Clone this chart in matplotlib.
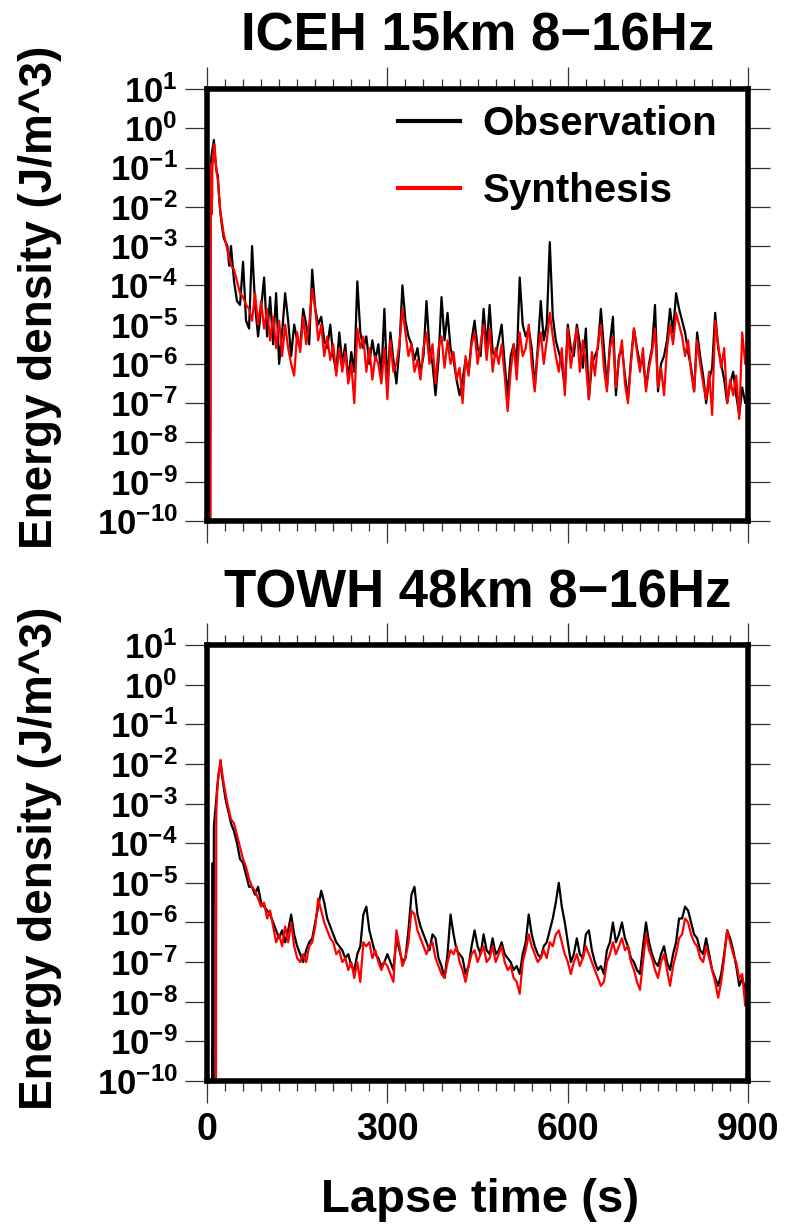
import matplotlib.pyplot as plt
import numpy as np
from matplotlib.lines import Line2D
from matplotlib.ticker import FixedLocator, FuncFormatter, MultipleLocator, NullLocator

plt.rcParams['font.family'] = ['Liberation Sans', 'DejaVu Sans']
plt.rcParams['font.weight'] = 'bold'
plt.rcParams['mathtext.fontset'] = 'custom'
plt.rcParams['mathtext.rm'] = 'Liberation Sans:bold'
plt.rcParams['mathtext.bf'] = 'Liberation Sans:bold'

# energy density envelopes, stored as log10(J/m^3)
# early part (onset + direct arrival) has its own time samples,
# the coda is sampled every 5 s from 45 s to 900 s
coda_step = 5
coda_start = 45

# ICEH, 15 km
iceh_obs_t_early = [5.0, 5.5, 6.5, 7.5, 8.5, 9.5, 10.5, 11.5, 12.5, 14, 16, 18, 20, 22, 25, 28, 31, 34, 37, 40]
iceh_obs_early = [-10, -1.2, -0.9, -0.7, -0.6, -0.5, -0.4, -0.3, -0.5, -0.8, -1.1, -1.2, -1.7, -2.1, -2.5, -2.8,
                  -2.9, -3.0, -3.5, -3.0]
iceh_obs_coda = [
    -3.9, -4.4, -4.5, -3.4, -4.9, -5.1, -3.0, -4.5, -5.3, -4.6,
    -3.8, -5.3, -4.3, -5.5, -4.2, -6.0, -5.2, -4.2, -4.9, -5.8,
    -5.0, -5.4, -5.6, -4.6, -5.0, -5.5, -3.6, -4.6, -5.0, -4.8,
    -5.4, -5.6, -5.0, -5.8, -6.2, -5.2, -6.0, -5.5, -6.4, -5.7,
    -6.2, -3.9, -5.2, -5.6, -5.3, -6.0, -5.4, -5.9, -5.5, -6.3,
    -4.6, -6.6, -5.2, -5.9, -6.5, -5.6, -4.0, -4.9, -5.3, -5.5,
    -5.9, -5.6, -6.2, -5.8, -4.4, -5.6, -6.0, -6.8, -5.9, -4.3,
    -5.4, -4.7, -5.6, -5.9, -6.4, -6.8, -6.4, -5.9, -6.2, -5.4,
    -4.9, -5.6, -5.8, -4.6, -5.6, -4.5, -5.7, -5.8, -5.4, -5.0,
    -6.0, -6.8, -5.8, -5.5, -6.0, -3.8, -5.0, -5.3, -5.1, -5.6,
    -6.6, -5.6, -4.4, -5.4, -5.0, -2.9, -4.8, -5.4, -5.7, -6.0,
    -6.6, -5.0, -5.6, -5.8, -5.0, -5.5, -6.1, -5.1, -6.9, -6.0,
    -5.8, -5.6, -4.6, -5.6, -6.6, -5.5, -4.8, -6.8, -5.8, -5.6,
    -6.3, -6.9, -5.9, -5.1, -5.6, -6.0, -5.9, -6.6, -6.0, -5.6,
    -4.5, -6.7, -6.0, -5.8, -5.4, -4.6, -5.2, -4.2, -4.6, -4.9,
    -5.2, -5.7, -6.1, -6.7, -5.2, -5.8, -6.3, -7.0, -6.4, -6.1,
    -4.7, -5.6, -6.0, -6.4, -7.0, -6.5, -6.2, -6.8, -7.3, -6.6,
    -7.0, -6.9,
]
iceh_syn_t_early = [6.0, 6.5, 7.0, 7.5, 8.0, 8.5, 9.0, 10, 11, 12, 13, 14, 16, 18, 20, 22, 25, 28, 31, 34, 37, 40]
iceh_syn_early = [-10, -0.9, -1.5, -2.2, -1.0, -1.8, -1.0, -0.8, -0.6, -0.4, -0.5, -0.8, -1.1, -1.3, -1.7, -2.1,
                  -2.4, -2.7, -2.9, -3.1, -3.3, -3.5]
iceh_syn_coda = [
    -3.6, -3.9, -4.2, -4.3, -4.5, -4.6, -4.9, -4.2, -5.0, -4.4,
    -5.1, -4.6, -5.4, -4.8, -5.6, -4.9, -5.8, -5.0, -5.6, -6.0,
    -6.3, -5.2, -5.7, -4.8, -5.5, -5.0, -4.1, -4.6, -5.4, -5.0,
    -5.8, -5.3, -5.9, -5.5, -6.3, -5.6, -6.2, -5.7, -6.5, -6.0,
    -7.0, -5.1, -5.6, -5.3, -6.2, -5.6, -6.4, -5.8, -6.0, -6.5,
    -5.6, -6.9, -5.4, -6.2, -6.0, -5.5, -4.6, -5.2, -5.8, -5.5,
    -6.2, -5.9, -6.4, -5.6, -5.2, -6.0, -5.5, -6.5, -5.6, -5.3,
    -6.1, -5.4, -6.0, -5.7, -6.4, -6.1, -7.0, -5.8, -6.3, -5.5,
    -5.2, -6.0, -5.5, -5.0, -5.9, -5.1, -6.2, -5.6, -6.0, -5.5,
    -6.3, -7.2, -6.2, -5.5, -6.4, -5.2, -5.8, -5.6, -5.0, -6.0,
    -6.7, -5.7, -5.2, -6.0, -5.4, -4.7, -5.3, -5.8, -6.2, -5.6,
    -6.8, -5.1, -6.1, -5.5, -5.1, -6.2, -5.4, -6.0, -6.9, -5.7,
    -6.3, -5.5, -5.0, -6.1, -6.7, -5.6, -5.3, -6.6, -5.9, -5.4,
    -6.5, -7.0, -6.0, -5.1, -5.7, -6.2, -5.6, -6.7, -6.1, -5.7,
    -5.1, -6.6, -6.1, -6.8, -5.6, -5.0, -5.5, -4.7, -5.0, -5.3,
    -5.8, -5.4, -6.2, -6.7, -5.4, -6.0, -6.5, -6.9, -6.2, -7.3,
    -4.9, -5.5, -6.1, -5.6, -7.0, -6.4, -6.8, -6.3, -7.4, -5.2,
    -6.0, -5.4,
]

# TOWH, 48 km
towh_obs_t_early = [8.5, 9.5, 10.5, 11.5, 13, 15, 17, 19, 21, 23, 25, 28, 31, 34, 37, 40]
towh_obs_early = [-10, -4.5, -10, -3.6, -3.3, -3.0, -2.6, -2.3, -2.1, -2.0, -2.3, -2.6, -2.9, -3.1, -3.3, -3.5]
towh_obs_coda = [
    -3.7, -4.0, -4.4, -4.5, -4.8, -5.1, -5.1, -5.3, -5.1, -5.5,
    -5.6, -5.7, -5.8, -6.0, -6.2, -6.4, -6.2, -6.5, -6.2, -5.8,
    -6.3, -6.6, -6.8, -7.0, -6.7, -6.5, -6.4, -6.0, -5.6, -5.2,
    -5.5, -5.9, -6.1, -6.3, -6.5, -6.6, -6.7, -6.9, -6.8, -7.1,
    -7.2, -6.8, -6.6, -5.8, -5.6, -6.2, -6.5, -6.8, -6.9, -7.1,
    -7.0, -6.8, -7.0, -7.2, -6.4, -6.7, -7.0, -6.9, -6.2, -5.3,
    -5.1, -5.8, -6.1, -6.3, -6.5, -6.7, -6.3, -6.4, -6.9, -7.1,
    -7.4, -6.8, -5.8, -6.3, -6.7, -6.8, -6.9, -7.3, -7.1, -6.6,
    -6.2, -6.6, -6.8, -6.3, -6.7, -6.8, -6.4, -6.8, -6.7, -6.5,
    -6.8, -6.9, -7.0, -7.2, -7.1, -7.3, -6.8, -6.5, -5.8, -6.3,
    -6.6, -6.8, -6.9, -6.6, -6.5, -6.2, -5.9, -5.5, -5.0, -5.6,
    -6.0, -6.5, -7.0, -6.8, -6.4, -6.8, -6.9, -6.3, -6.2, -6.7,
    -7.0, -7.2, -7.1, -7.3, -6.7, -6.5, -6.0, -6.5, -6.3, -6.0,
    -6.4, -6.6, -6.9, -7.0, -7.2, -7.3, -6.6, -6.0, -6.5, -6.8,
    -7.0, -7.1, -6.8, -6.6, -7.0, -7.2, -6.8, -6.5, -5.9, -5.9,
    -5.6, -5.7, -6.0, -6.3, -6.4, -6.7, -6.8, -6.4, -6.8, -7.2,
    -7.4, -7.6, -7.3, -6.8, -6.2, -6.4, -6.7, -7.1, -7.6, -7.4,
    -7.7, -7.9,
]
towh_syn_t_early = [15, 15.5, 17, 19, 21, 22.7, 24, 26, 28, 31, 34, 37, 40]
towh_syn_early = [-10, -3.2, -2.7, -2.3, -2.1, -1.9, -2.1, -2.3, -2.5, -2.75, -3.0, -3.2, -3.4]
towh_syn_coda = [
    -3.5, -3.8, -4.1, -4.4, -4.6, -4.9, -5.1, -5.2, -5.4, -5.6,
    -5.5, -5.9, -5.7, -6.1, -6.5, -6.3, -6.6, -6.1, -6.5, -6.0,
    -6.6, -6.9, -7.0, -6.8, -7.0, -6.6, -6.5, -6.1, -5.4, -5.7,
    -6.0, -6.2, -6.4, -6.5, -6.8, -6.7, -7.0, -6.9, -7.2, -7.0,
    -7.4, -7.0, -7.5, -6.5, -6.6, -6.5, -6.9, -6.7, -7.0, -7.2,
    -7.0, -7.1, -7.3, -7.5, -6.2, -6.6, -7.1, -6.9, -6.5, -5.7,
    -5.8, -6.2, -6.4, -6.6, -6.8, -6.6, -6.5, -6.9, -7.1, -7.3,
    -7.4, -7.0, -6.7, -6.8, -6.6, -7.0, -7.2, -7.5, -7.1, -6.8,
    -6.7, -7.0, -6.8, -6.6, -7.0, -6.9, -6.6, -7.0, -6.8, -6.6,
    -7.0, -7.2, -7.1, -7.4, -7.5, -7.8, -7.0, -6.7, -6.3, -6.6,
    -6.8, -7.0, -6.9, -6.7, -6.9, -6.5, -6.6, -6.3, -6.2, -6.5,
    -6.8, -7.0, -7.3, -7.0, -6.8, -7.1, -6.9, -6.6, -6.8, -7.0,
    -7.2, -7.4, -7.6, -7.5, -7.0, -6.8, -6.5, -6.8, -6.6, -6.4,
    -6.7, -6.6, -7.0, -7.2, -7.5, -7.7, -7.0, -6.3, -6.7, -6.9,
    -7.2, -7.4, -7.0, -6.8, -7.2, -7.6, -7.1, -6.8, -6.4, -6.3,
    -5.9, -6.0, -6.3, -6.5, -6.6, -6.9, -7.0, -6.6, -6.9, -7.2,
    -7.5, -7.9, -7.5, -6.9, -6.2, -6.5, -6.8, -7.0, -7.4, -7.3,
    -8.1, -7.0,
]

panel_titles = ['ICEH 15km 8\u221216Hz', 'TOWH 48km 8\u221216Hz']
legend_labels = ['Observation', 'Synthesis']
decades = np.arange(-10, 2)


def join_trace(t_early, early, coda):
    t_coda = coda_start + coda_step * np.arange(len(coda))
    t = np.concatenate([t_early, t_coda])
    log_e = np.concatenate([early, coda])
    return t, 10.0 ** log_e


def decade_label(v, pos):
    return r'$\mathbf{10^{%d}}$' % int(round(np.log10(v)))


def style_axes(ax, show_xlabels):
    ax.set_yscale('log')
    ax.set_xlim(0, 900)
    ax.set_ylim(1e-10, 1e1)
    ax.yaxis.set_major_locator(FixedLocator(10.0 ** decades))
    ax.yaxis.set_minor_locator(NullLocator())
    ax.yaxis.set_major_formatter(FuncFormatter(decade_label))
    ax.xaxis.set_major_locator(MultipleLocator(300))
    ax.xaxis.set_minor_locator(MultipleLocator(30))
    ax.tick_params(axis='both', which='major', direction='out', length=16, width=0.9,
                   color='#333333', top=True, right=True, pad=6)
    ax.tick_params(axis='x', which='minor', direction='out', length=7, width=0.9,
                   color='#333333', top=True)
    ax.tick_params(axis='y', labelsize=25, pad=5)
    ax.tick_params(axis='x', labelsize=27, labelbottom=show_xlabels)
    for sp in ax.spines.values():
        sp.set_linewidth(4)


def draw_panel(ax, obs, syn):
    ax.plot(obs[0], obs[1], color='black', lw=1.6)
    ax.plot(syn[0], syn[1], color='red', lw=1.6)


fig = plt.figure(figsize=(7.96, 12.27), dpi=100)
ax_top = fig.add_axes([0.260, 0.5754, 0.680, 0.3521])
ax_bot = fig.add_axes([0.260, 0.1190, 0.680, 0.3553])

draw_panel(ax_top, join_trace(iceh_obs_t_early, iceh_obs_early, iceh_obs_coda),
           join_trace(iceh_syn_t_early, iceh_syn_early, iceh_syn_coda))
draw_panel(ax_bot, join_trace(towh_obs_t_early, towh_obs_early, towh_obs_coda),
           join_trace(towh_syn_t_early, towh_syn_early, towh_syn_coda))
style_axes(ax_top, False)
style_axes(ax_bot, True)

# legend only in the upper panel
handles = [Line2D([], [], color='black', lw=3), Line2D([], [], color='red', lw=3)]
ax_top.legend(handles, legend_labels, loc='upper left', bbox_to_anchor=(0.353, 0.962),
              frameon=False, borderpad=0, borderaxespad=0, fontsize=29,
              handlelength=1.55, handletextpad=0.55, labelspacing=0.72)

# titles and axis labels
fig.text(0.6, 0.9593, panel_titles[0], ha='center', va='baseline', fontsize=38, fontweight='bold')
fig.text(0.6, 0.5053, panel_titles[1], ha='center', va='baseline', fontsize=38, fontweight='bold')
for yc in [0.758, 0.3007]:
    fig.text(0.05, yc, 'Energy density (J/m^3)', rotation=90, ha='center', va='center',
             fontsize=33, fontweight='bold')
fig.text(0.603, 0.0122, 'Lapse time (s)', ha='center', va='baseline', fontsize=34, fontweight='bold')

fig.savefig('out.png', dpi=100)
